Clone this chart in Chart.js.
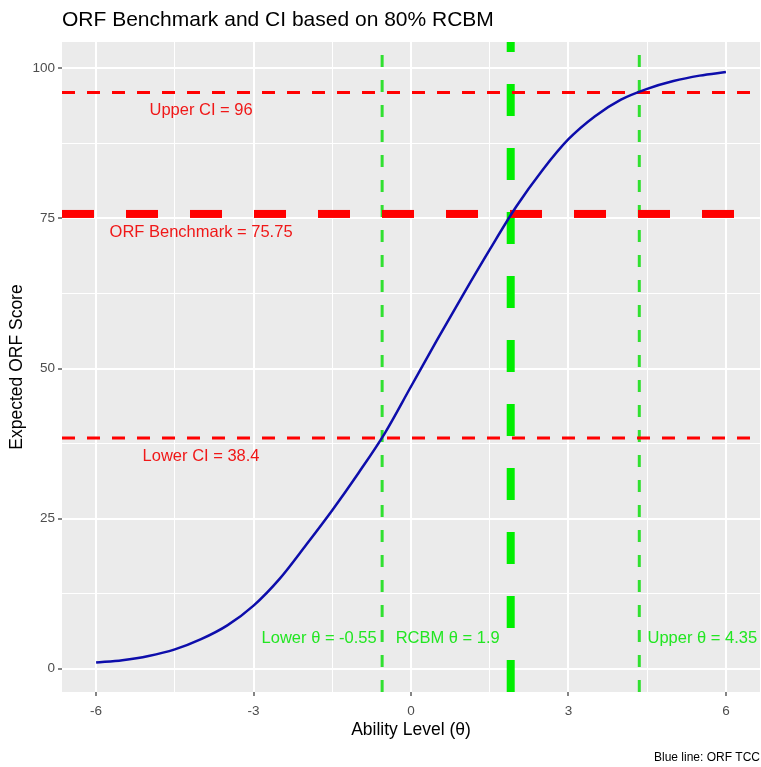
<!DOCTYPE html>
<html lang="en">

<head>
    <meta charset="utf-8">
    <title>ORF Benchmark and CI</title>
    <script src="https://cdn.jsdelivr.net/npm/chart.js"></script>
    <style>
        body {
            margin: 0;
            padding: 0;
            background-color: #ffffff;
        }

        .wrap {
            width: 761px;
            height: 767px;
        }
    </style>
</head>

<body>
    <div class="wrap"><canvas id="tccChart"></canvas></div>

    <script>
        // ORF test characteristic curve
        const theta = [-6, -5.5, -5, -4.5, -4, -3.5, -3, -2.5, -2, -1.5, -1, -0.5, 0,
            0.5, 1, 1.5, 2, 2.5, 3, 3.5, 4, 4.5, 5, 5.5, 6];
        const orfScore = [1.0, 1.4, 2.1, 3.2, 4.9, 7.2, 10.5, 15.0, 20.6, 26.4, 32.6, 39.2, 47.0,
            54.8, 62.4, 69.8, 76.9, 83.0, 88.2, 92.0, 94.8, 96.6, 97.9, 98.8, 99.4];

        // tick labels
        const xTicks = [-6, -3, 0, 3, 6];
        const xMinor = [-4.5, -1.5, 1.5, 4.5];
        const yTicks = [0, 25, 50, 75, 100];
        const yMinor = [12.5, 37.5, 62.5, 87.5];

        // horizontal reference lines (score) and vertical ones (theta)
        const ciValues = [96, 75.75, 38.4];
        const ciLabels = ['Upper CI = 96', 'ORF Benchmark = 75.75', 'Lower CI = 38.4'];
        const thetaValues = [-0.55, 1.9, 4.35];
        const thetaLabels = ['Lower \u03b8 = -0.55', 'RCBM \u03b8 = 1.9', 'Upper \u03b8 = 4.35'];

        const xMin = -6.65, xMax = 6.65;
        const yMin = -3.9, yMax = 104.4;

        const FONT = "'Liberation Sans', Arial, sans-serif";

        // grey panel like ggplot
        const panelBg = {
            id: 'panelBg',
            beforeDraw(chart) {
                const { ctx, chartArea: a } = chart;
                ctx.save();
                ctx.fillStyle = '#ebebeb';
                ctx.fillRect(a.left, a.top, a.right - a.left, a.bottom - a.top);
                ctx.restore();
            }
        };

        // text annotations next to the reference lines
        const lineLabels = {
            id: 'lineLabels',
            afterDatasetsDraw(chart) {
                const { ctx, scales: { x, y } } = chart;
                ctx.save();
                ctx.font = '16.5px ' + FONT;
                ctx.textAlign = 'center';
                ctx.textBaseline = 'middle';
                ctx.fillStyle = '#f01818';
                ciValues.forEach((v, i) => {
                    ctx.fillText(ciLabels[i], x.getPixelForValue(-4), y.getPixelForValue(v - 3));
                });
                ctx.fillStyle = '#22e622';
                thetaValues.forEach((v, i) => {
                    const shift = i === 2 ? 1.2 : -1.2;
                    ctx.fillText(thetaLabels[i], x.getPixelForValue(v + shift), y.getPixelForValue(5));
                });
                ctx.restore();
            }
        };

        const datasets = [{
            data: theta.map((t, i) => ({ x: t, y: orfScore[i] })),
            borderColor: '#0d0dab',
            borderWidth: 2.5,
            cubicInterpolationMode: 'monotone'
        }];

        ciValues.forEach((v, i) => {
            datasets.push({
                data: [{ x: xMin, y: v }, { x: xMax, y: v }],
                borderColor: '#ff0000',
                borderWidth: i === 1 ? 8 : 3,
                borderDash: i === 1 ? [32, 32] : [13, 12],
                clip: 0
            });
        });

        thetaValues.forEach((v, i) => {
            datasets.push({
                data: [{ x: v, y: yMin }, { x: v, y: yMax }],
                borderColor: i === 1 ? '#00ee00' : '#30e030',
                borderWidth: i === 1 ? 8 : 3,
                borderDash: i === 1 ? [32, 32] : [12, 13],
                clip: 0
            });
        });

        const ctx = document.getElementById('tccChart').getContext('2d');
        new Chart(ctx, {
            type: 'scatter',
            data: { datasets: datasets },
            plugins: [panelBg, lineLabels],
            options: {
                responsive: true,
                maintainAspectRatio: false,
                animation: false,
                showLine: true,
                elements: { point: { radius: 0, hoverRadius: 0 } },
                layout: { padding: { left: 0, right: 1, top: 0, bottom: 0 } },
                plugins: {
                    legend: { display: false },
                    tooltip: { enabled: false },
                    title: {
                        display: true,
                        text: 'ORF Benchmark and CI based on 80% RCBM',
                        align: 'start',
                        fullSize: false,
                        color: '#000000',
                        font: { family: FONT, size: 21, weight: 'normal' },
                        padding: { top: 7.4, bottom: 9.4 }
                    },
                    subtitle: {
                        display: true,
                        text: 'Blue line: ORF TCC',
                        position: 'bottom',
                        align: 'end',
                        fullSize: false,
                        color: '#000000',
                        font: { family: FONT, size: 12 },
                        padding: { top: 9, bottom: 2.6 }
                    }
                },
                scales: {
                    x: {
                        type: 'linear',
                        min: xMin,
                        max: xMax,
                        afterFit: s => { s.height = 49; },
                        afterBuildTicks: s => {
                            s.ticks = xTicks.concat(xMinor).sort((a, b) => a - b).map(v => ({ value: v }));
                        },
                        border: { display: false },
                        grid: {
                            color: '#ffffff',
                            lineWidth: c => xTicks.includes(c.tick.value) ? 2 : 1,
                            tickLength: 4,
                            tickColor: c => xTicks.includes(c.tick.value) ? '#333333' : 'rgba(0,0,0,0)',
                            tickWidth: 1.2
                        },
                        ticks: {
                            autoSkip: false,
                            maxRotation: 0,
                            padding: 7,
                            color: '#4d4d4d',
                            font: { family: FONT, size: 13.5 },
                            callback: v => xTicks.includes(v) ? String(v) : ''
                        },
                        title: {
                            display: true,
                            text: 'Ability Level (\u03b8)',
                            color: '#000000',
                            font: { family: FONT, size: 17.5 },
                            padding: { top: 0, bottom: 0 }
                        }
                    },
                    y: {
                        type: 'linear',
                        min: yMin,
                        max: yMax,
                        afterFit: s => { s.width = 62; },
                        afterBuildTicks: s => {
                            s.ticks = yTicks.concat(yMinor).sort((a, b) => a - b).map(v => ({ value: v }));
                        },
                        border: { display: false },
                        grid: {
                            color: '#ffffff',
                            lineWidth: c => yTicks.includes(c.tick.value) ? 2 : 1,
                            tickLength: 4,
                            tickColor: c => yTicks.includes(c.tick.value) ? '#333333' : 'rgba(0,0,0,0)',
                            tickWidth: 1.2
                        },
                        ticks: {
                            autoSkip: false,
                            padding: 3,
                            color: '#4d4d4d',
                            font: { family: FONT, size: 13.5 },
                            callback: v => yTicks.includes(v) ? String(v) : ''
                        },
                        title: {
                            display: true,
                            text: 'Expected ORF Score',
                            color: '#000000',
                            font: { family: FONT, size: 17.5 },
                            padding: { top: 7, bottom: 0 }
                        }
                    }
                }
            }
        });
    </script>

</body>

</html>
